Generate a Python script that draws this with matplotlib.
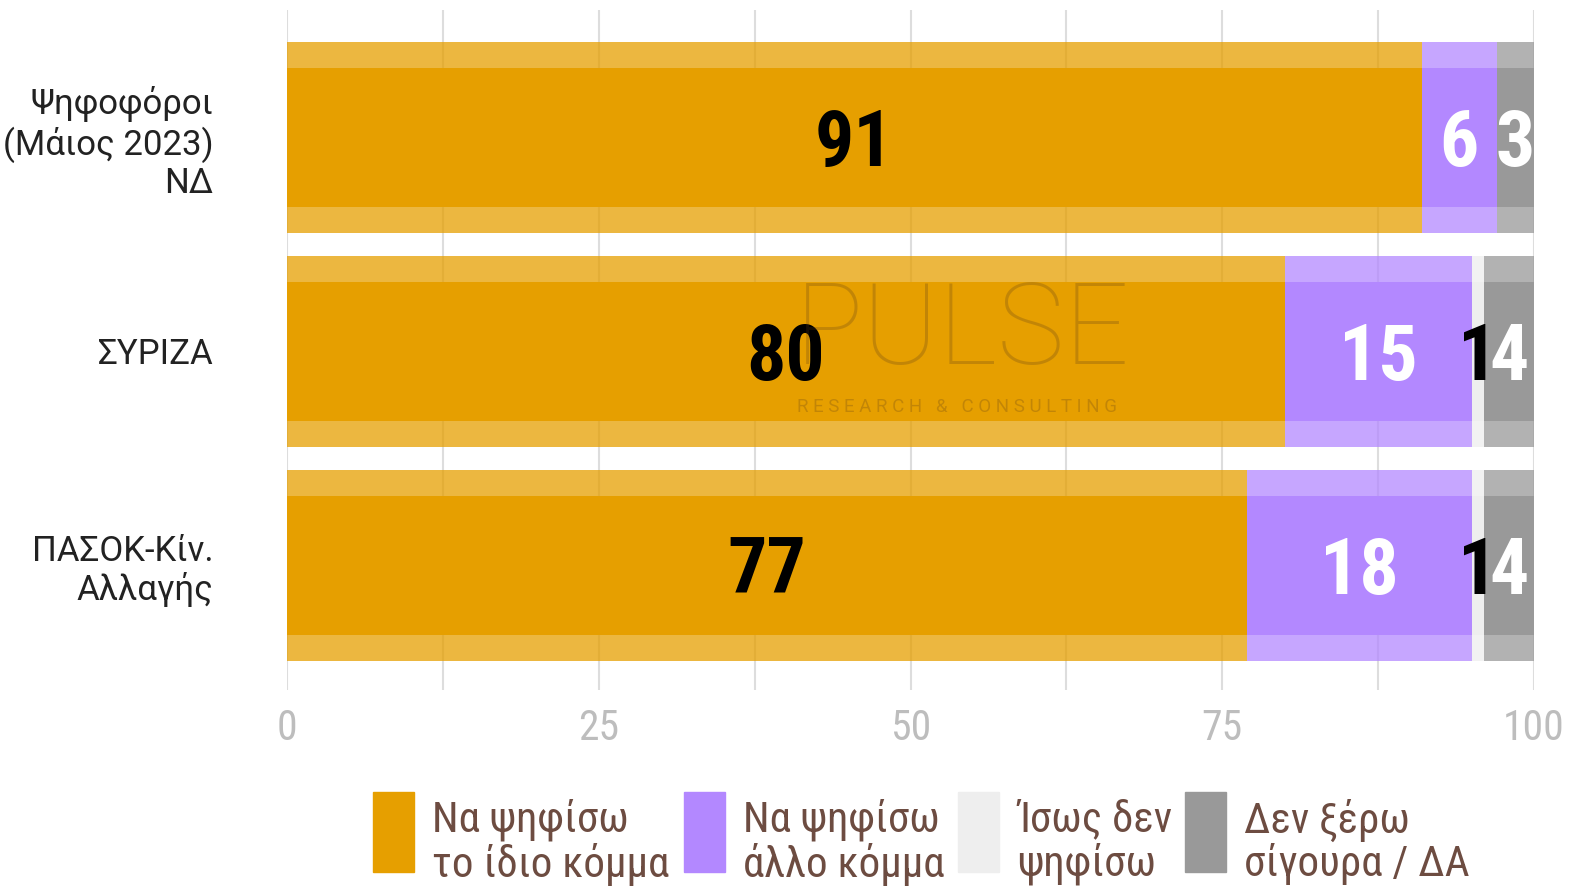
import matplotlib
matplotlib.use("Agg")
import matplotlib.pyplot as plt
from matplotlib import font_manager as fm
from matplotlib.patches import Rectangle


def pick_font(cands):
    for c in cands:
        try:
            fm.findfont(fm.FontProperties(family=c), fallback_to_default=False)
            return c
        except Exception:
            continue
    return "DejaVu Sans"


COND = pick_font(["Roboto Condensed", "Liberation Sans Narrow", "Roboto"])
REG = pick_font(["Roboto", "Noto Sans", "DejaVu Sans"])

#  ------- Data -------  #
categories = ["Ψηφοφόροι\n(Μάιος 2023)\nΝΔ", "ΣΥΡΙΖΑ", "ΠΑΣΟΚ-Κίν.\nΑλλαγής"]
series_names = ["Να ψηφίσω\nτο ίδιο κόμμα", "Να ψηφίσω\nάλλο κόμμα",
                "Ίσως δεν\nψηφίσω", "Δεν ξέρω\nσίγουρα / ΔΑ"]
same_party = [91, 80, 77]
other_party = [6, 15, 18]
maybe_not = [0, 1, 1]
dont_know = [3, 4, 4]
series = [same_party, other_party, maybe_not, dont_know]
colors = ["#E69F00", "#B388FF", "#EEEEEE", "#999999"]
label_colors = ["black", "white", "black", "white"]
xticks = [0, 25, 50, 75, 100]

#  ------- Plot -------  #
fig = plt.figure(figsize=(15.81, 8.86), dpi=100)
ax = fig.add_axes([287 / 1581, 1 - 690 / 886, (1534 - 287) / 1581, 680 / 886])

ypos = list(range(len(categories)))
left = [0] * len(categories)
for vals, col, lcol in zip(series, colors, label_colors):
    ax.barh(ypos, vals, left=left, height=0.893, color=col, alpha=0.75,
            linewidth=0, zorder=2)
    ax.barh(ypos, vals, left=left, height=0.65, color=col,
            linewidth=0, zorder=3)
    for y, v, l in zip(ypos, vals, left):
        if v > 0:
            ax.text(l + v / 2, y + 0.035, str(v), ha="center", va="center",
                    color=lcol, fontsize=56, fontweight="bold",
                    family=COND, zorder=5)
    left = [a + b for a, b in zip(left, vals)]

ax.set_xlim(0, 100)
ax.set_ylim(2.582, -0.596)
ax.set_xticks(xticks)
ax.set_xticks([12.5, 37.5, 62.5, 87.5], minor=True)
ax.grid(True, axis="x", which="both", color="#DDDDDD", linewidth=1.5, zorder=0)
ax.set_axisbelow(True)
ax.tick_params(axis="x", which="both", length=0, pad=13, labelsize=30,
               labelcolor="#BDBDBD")
for t in ax.get_xticklabels():
    t.set_family(COND)
ax.set_yticks(ypos)
ax.set_yticklabels(categories, fontsize=25, color="#222222", family=REG,
                   linespacing=1.15)
ax.tick_params(axis="y", length=0, pad=53)
for s in ax.spines.values():
    s.set_visible(False)

# watermark
ax.text(40.7, 1 - 0.085, "PULSE", fontsize=82, family=REG, fontweight="light",
        color="#5A3A1A", alpha=0.25, ha="left", va="center", zorder=6)
ax.text(53.7, 1 + 0.26, "R E S E A R C H   &   C O N S U L T I N G",
        fontsize=13.5, family=REG, color="#5A3A1A", alpha=0.25,
        ha="center", va="center", zorder=6)

# legend
leg_x = [373, 684, 958, 1185]
for x, col, name in zip(leg_x, colors, series_names):
    fig.patches.append(Rectangle((x / 1581, 1 - 872 / 886), 41 / 1581, 80 / 886,
                                 transform=fig.transFigure, color=col, zorder=1))
    fig.text((x + 59) / 1581, 1 - 842 / 886, name, fontsize=31, family=COND,
             color="#6D4C41", ha="left", va="center", linespacing=1.05)

fig.savefig("out.png", dpi=100)
